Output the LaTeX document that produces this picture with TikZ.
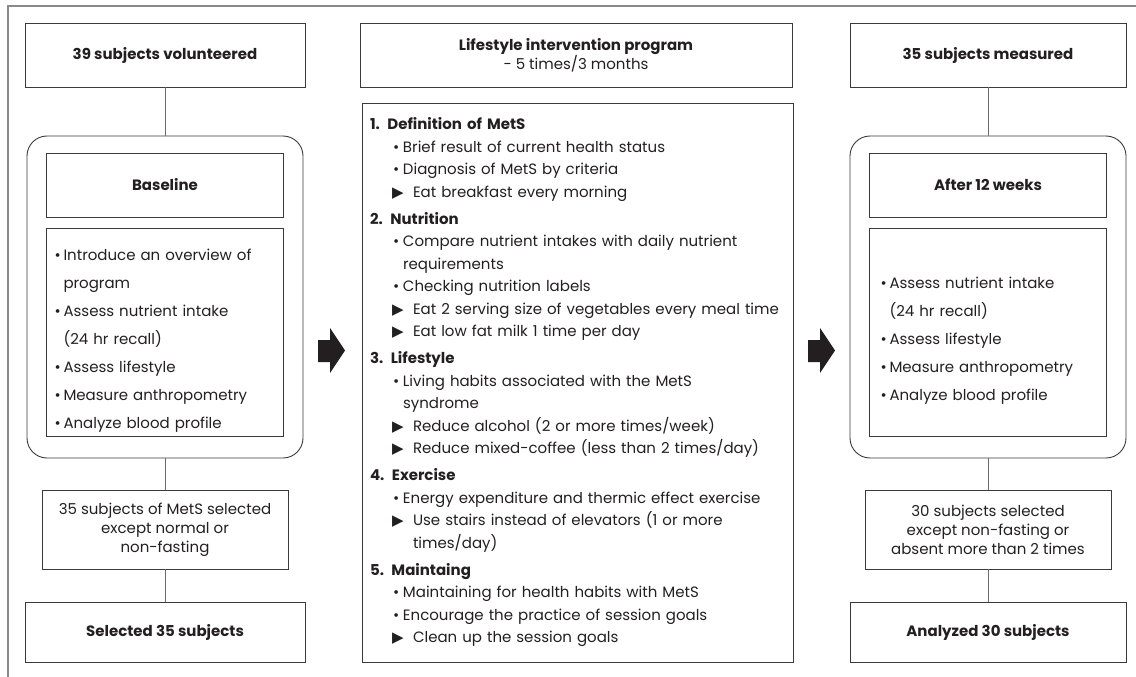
\documentclass[tikz,border=0pt]{standalone}
\usepackage{fontspec}
\setmainfont{Poppins}
\newfontfamily\symfont{DejaVu Sans}
\usetikzlibrary{positioning}

\definecolor{ink}{HTML}{231F20}
\definecolor{boxline}{HTML}{3A3A3A}
\definecolor{linkgray}{HTML}{6A6A6A}
\definecolor{framegray}{HTML}{8A8A8A}

\newcommand{\hd}[1]{\par\addvspace{4.5pt}\textbf{#1}\par}
\newcommand{\dotitem}[1]{\par\hangindent=33pt\hangafter=1\hspace*{23pt}\makebox[10pt][l]{\textbullet}#1}
\newcommand{\triitem}[1]{\par\hangindent=43pt\hangafter=1\hspace*{22pt}\makebox[21pt][l]{\symfont\fontsize{15}{15}\selectfont ▶}#1}
\newcommand{\lstitem}[1]{\par\hangindent=9pt\hangafter=1\makebox[9pt][l]{\textbullet}#1}

\begin{document}
\begin{tikzpicture}[x=1pt, y=-1pt, text=ink,
  font=\fontsize{15}{19}\selectfont,
  box/.style={draw=boxline, line width=0.9pt, inner sep=0pt, align=center},
  title/.style={box, font=\fontsize{15}{19}\selectfont\bfseries},
  round/.style={box, rounded corners=20pt},
  listbox/.style={box, align=left, inner xsep=8pt, font=\fontsize{15}{28}\selectfont},
  link/.style={draw=linkgray, line width=0.9pt},
  blockarrow/.style={fill=ink}]

\useasboundingbox (0,0) rectangle (1136,677);
\draw[framegray, line width=1.2pt] (8,677) -- (8,6) -- (1136,6);

\node[title, minimum width=280pt, minimum height=64pt] (vol) at (165,55) {39 subjects volunteered};
\node[round, minimum width=276pt, minimum height=322pt] (base) at (165,297) {};
\node[title, minimum width=237pt, minimum height=64pt] (basetitle) at (165,185) {Baseline};
\node[listbox, text width=221pt, minimum height=208pt] (baselist) at (165,332) {%
  \lstitem{Introduce an overview of\newline program}
  \lstitem{Assess nutrient intake\newline (24 hr recall)}
  \lstitem{Assess lifestyle}
  \lstitem{Measure anthropometry}
  \lstitem{Analyze blood profile}};
\node[box, minimum width=246pt, minimum height=79pt] (sel35) at (165,529.5) {35 subjects of MetS selected\\except normal or\\non-fasting};
\node[title, minimum width=280pt, minimum height=60pt] (fin35) at (165,632) {Selected 35 subjects};

\node[box, minimum width=432pt, minimum height=64pt] (prog) at (576,55) {\textbf{Lifestyle intervention program}\\- 5 times/3 months};
\node[box, align=left, inner xsep=8pt, text width=415pt, minimum height=559pt, font=\fontsize{15}{22.5}\selectfont] (plan) at (577.5,382.5) {%
  \textbf{1. Definition of MetS}
  \dotitem{Brief result of current health status}
  \dotitem{Diagnosis of MetS by criteria}
  \triitem{Eat breakfast every morning}
  \hd{2. Nutrition}
  \dotitem{Compare nutrient intakes with daily nutrient\newline requirements}
  \dotitem{Checking nutrition labels}
  \triitem{Eat 2 serving size of vegetables every meal time}
  \triitem{Eat low fat milk 1 time per day}
  \hd{3. Lifestyle}
  \dotitem{Living habits associated with the MetS\newline syndrome}
  \triitem{Reduce alcohol (2 or more times/week)}
  \triitem{Reduce mixed-coffee (less than 2 times/day)}
  \hd{4. Exercise}
  \dotitem{Energy expenditure and thermic effect exercise}
  \triitem{Use stairs instead of elevators (1 or more\newline times/day)}
  \hd{5. Maintaing}
  \dotitem{Maintaining for health habits with MetS}
  \dotitem{Encourage the practice of session goals}
  \triitem{Clean up the session goals}};

\node[title, minimum width=276pt, minimum height=64pt] (meas) at (988,55) {35 subjects measured};
\node[round, minimum width=276pt, minimum height=322pt] (after) at (988,297) {};
\node[title, minimum width=237pt, minimum height=64pt] (aftertitle) at (988,185) {After 12 weeks};
\node[listbox, inner xsep=11pt, text width=215pt, minimum height=208pt] (afterlist) at (988,332) {%
  \lstitem{Assess nutrient intake\newline (24 hr recall)}
  \lstitem{Assess lifestyle}
  \lstitem{Measure anthropometry}
  \lstitem{Analyze blood profile}};
\node[box, minimum width=246pt, minimum height=79pt] (sel30) at (988,529.5) {30 subjects selected\\except non-fasting or\\absent more than 2 times};
\node[title, minimum width=276pt, minimum height=60pt] (fin30) at (988,632) {Analyzed 30 subjects};

\draw[link] (vol) -- (base);
\draw[link] (base) -- (sel35);
\draw[link] (sel35) -- (fin35);
\draw[link] (meas) -- (after);
\draw[link] (after) -- (sel30);
\draw[link] (sel30) -- (fin30);

\fill[blockarrow] (318,340) -- (330,340) -- (330,328) -- (345,350.5) -- (330,373) -- (330,362) -- (318,362) -- cycle;
\fill[blockarrow] (808,340) -- (820,340) -- (820,328) -- (835,350.5) -- (820,373) -- (820,362) -- (808,362) -- cycle;
\end{tikzpicture}
\end{document}
